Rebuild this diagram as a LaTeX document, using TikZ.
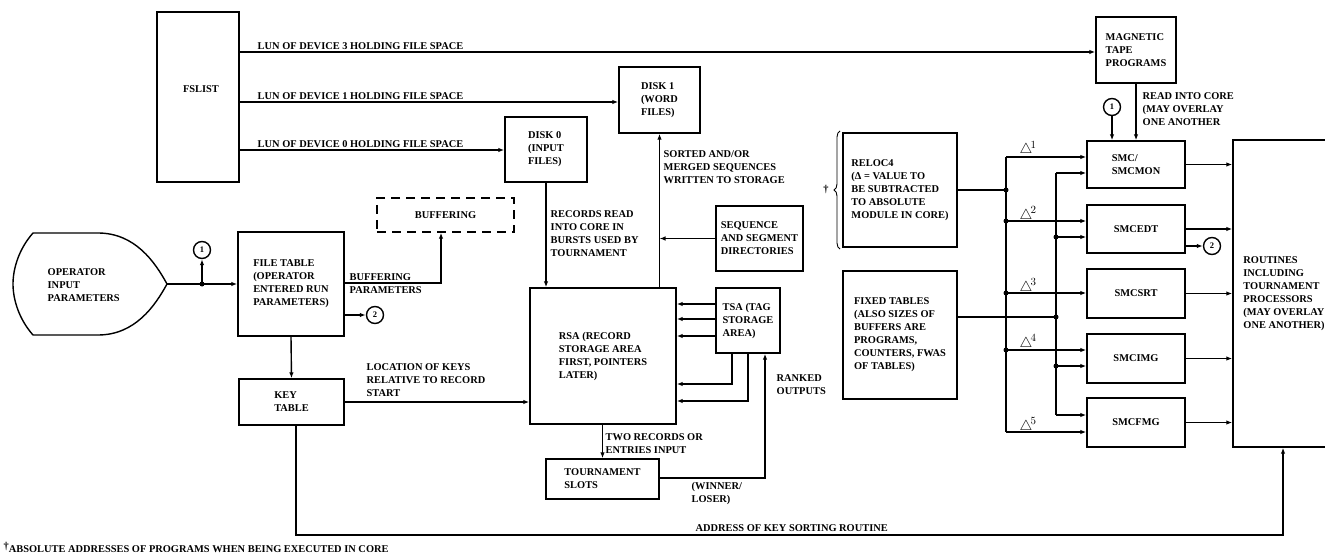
\documentclass[tikz,border=0pt]{standalone}
\usepackage{fontspec}
\setmainfont{Liberation Serif}
\usetikzlibrary{arrows.meta,calc,decorations.pathreplacing}
\newcommand\dfont{\fontsize{10.4}{13}\selectfont\bfseries}
\begin{document}
\begin{tikzpicture}[x=1pt,y=-1pt, line width=1.4pt,
 bx/.style={draw, align=left, inner sep=0pt, font=\dfont},
 txt/.style={align=left, inner sep=0pt, font=\dfont},
 arr/.style={-{Latex[length=6pt,width=4.5pt]}},
 dot/.style={circle, fill, inner sep=0pt, minimum size=5pt},
 cnum/.style={circle, draw, inner sep=0pt, minimum size=17pt, font=\fontsize{8.5}{8.5}\selectfont\bfseries},
 dlt/.style={inner sep=0pt, anchor=base west, font=\fontsize{15}{15}\selectfont}]
\useasboundingbox (0,0) rectangle (1325,556);
\fill[white] (0,0) rectangle (1325,556);

% ---------- boxes ----------
\node[bx, minimum width=82pt, minimum height=170pt] (fslist) at (198,97) {};
\node[txt] (fslisttxt) at (201,89) {FSLIST};
\node[bx, minimum width=80pt, minimum height=66pt] (magtape) at (1136,50) {MAGNETIC\\TAPE\\PROGRAMS};
\node[bx, minimum width=81pt, minimum height=66pt] (disk1) at (659.5,100) {DISK 1\\(WORD\\FILES)};
\node[bx, minimum width=82pt, minimum height=65pt] (disk0) at (546,149.5) {DISK 0\\(INPUT\\FILES)};
\node[bx, dash pattern=on 9pt off 6pt, minimum width=137pt, minimum height=34pt] (buffering) at (445.5,215) {BUFFERING};
\node[bx, minimum width=106pt, minimum height=104pt] (filetable) at (291,284) {FILE TABLE\\(OPERATOR\\ENTERED RUN\\PARAMETERS)};
\node[bx, minimum width=105pt, minimum height=46pt] (keytable) at (291.5,402) {KEY\\TABLE};
\node[bx, minimum width=146pt, minimum height=136pt] (rsa) at (603,356) {RSA (RECORD\\STORAGE AREA\\FIRST, POINTERS\\LATER)};
\node[bx, minimum width=87pt, minimum height=65pt] (seqdir) at (759.5,238.5) {SEQUENCE\\AND SEGMENT\\DIRECTORIES};
\node[bx, minimum width=64pt, minimum height=65pt] (tsa) at (748,320.5) {TSA (TAG\\STORAGE\\AREA)};
\node[bx, minimum width=113pt, minimum height=40pt] (tourn) at (602.5,479) {TOURNAMENT\\SLOTS};
\node[bx, minimum width=114pt, minimum height=114pt] (reloc) at (900,190) {RELOC4\\(Δ = VALUE TO\\BE SUBTRACTED\\TO ABSOLUTE\\MODULE IN CORE)};
\node[bx, minimum width=114pt, minimum height=128pt] (fixed) at (900,335) {FIXED TABLES\\(ALSO SIZES OF\\BUFFERS ARE\\PROGRAMS,\\COUNTERS, FWAS\\OF TABLES)};
\node[bx, minimum width=98pt, minimum height=47pt] (smc) at (1136,164.5) {SMC/\\SMCMON};
\node[bx, minimum width=98pt, minimum height=48pt] (edt) at (1136,229) {SMCEDT};
\node[bx, minimum width=98pt, minimum height=49pt] (srt) at (1136,293.5) {SMCSRT};
\node[bx, minimum width=98pt, minimum height=49pt] (img) at (1136,358.5) {SMCIMG};
\node[bx, minimum width=98pt, minimum height=49pt] (fmg) at (1136,422.5) {SMCFMG};
\node[bx, minimum width=102pt, minimum height=307pt] (routines) at (1284,293.5) {ROUTINES\\INCLUDING\\TOURNAMENT\\PROCESSORS\\(MAY OVERLAY\\ONE ANOTHER)};

% operator input shape
\draw (33,233) -- (98,233) .. controls (135,233) and (155,262) .. (167,284)
  .. controls (155,306) and (135,335) .. (98,335) -- (33,335)
  .. controls (18,318) and (13,298) .. (13,284)
  .. controls (13,270) and (18,250) .. (33,233) -- cycle;
\coordinate (optip) at (167,284);
\node[txt, anchor=west] (optxt) at (47,285) {OPERATOR\\INPUT\\PARAMETERS};

% circles
\node[cnum] (c1a) at (202,250) {1};
\node[cnum] (c2a) at (375,315) {2};
\node[cnum] (c1b) at (1112,107) {1};
\node[cnum] (c2b) at (1212,246) {2};

% brace and dagger
\draw[decorate, decoration={brace, amplitude=6pt}, line width=0.9pt] (840,249) -- (840,131);
\node[txt] (dag) at (826,190) {†};

% ---------- connectors ----------
\coordinate (f3) at (239,52);
\coordinate (f1) at (239,102);
\coordinate (f0) at (239,150);
\draw[arr] (fslist.east |- f3) -- (magtape.west |- f3);
\draw[arr] (fslist.east |- f1) -- (disk1.west |- f1);
\draw[arr] (fslist.east |- f0) -- (disk0.west |- f0);
\node[txt, anchor=base west] (lun3) at (257,49.5) {LUN OF DEVICE 3 HOLDING FILE SPACE};
\node[txt, anchor=base west] (lun1) at (257,99.5) {LUN OF DEVICE 1 HOLDING FILE SPACE};
\node[txt, anchor=base west] (lun0) at (257,147.5) {LUN OF DEVICE 0 HOLDING FILE SPACE};

\node[dot] (j1) at (202,284) {};
\draw[arr] (optip) -- (filetable.west);
\draw[arr] (j1.center) -- (c1a.south);

\coordinate (bp) at (441,283);
\draw[arr] (filetable.east |- bp) -- (bp) -- (bp |- buffering.south);
\node[txt, anchor=west] (bplbl) at (349,283.5) {BUFFERING\\PARAMETERS};
\draw[arr] (filetable.east |- c2a) -- (c2a.west);
\draw[arr] (filetable.south) -- (keytable.north);

\draw[arr] (keytable.east) -- (keytable.east -| rsa.west);
\node[txt, anchor=west] (loclbl) at (366,380) {LOCATION OF KEYS\\RELATIVE TO RECORD\\START};

\draw[arr] (disk0.south) -- (disk0.south |- rsa.north);
\node[txt, anchor=west] (reclbl) at (550,234) {RECORDS READ\\INTO CORE IN\\BURSTS USED BY\\TOURNAMENT};
\draw[arr] (rsa.north -| disk1.south) -- (disk1.south);
\node[txt, anchor=west] (sortlbl) at (663,167.5) {SORTED AND/OR\\MERGED SEQUENCES\\WRITTEN TO STORAGE};
\draw[arr] (seqdir.west) -- (seqdir.west -| disk1.south);

\coordinate (t1) at (716,304);
\coordinate (t2) at (716,319);
\coordinate (t3) at (716,336);
\draw[arr] (tsa.west |- t1) -- (rsa.east |- t1);
\draw[arr] (tsa.west |- t2) -- (rsa.east |- t2);
\draw[arr] (tsa.west |- t3) -- (rsa.east |- t3);
\coordinate (t4) at (732,384);
\coordinate (t5) at (748,401);
\draw[arr] (tsa.south -| t4) -- (t4) -- (t4 -| rsa.east);
\draw[arr] (tsa.south -| t5) -- (t5) -- (t5 -| rsa.east);
\coordinate (t6) at (765,478);
\draw[arr] (tourn.east |- t6) -- (t6) -- (t6 |- tsa.south);
\node[txt, anchor=west] (ranklbl) at (776,384.5) {RANKED\\OUTPUTS};
\node[txt, anchor=west] (winlbl) at (691,493.5) {(WINNER/\\LOSER)};

\draw[arr] (rsa.south -| tourn.north) -- (tourn.north);
\node[txt, anchor=west] (twolbl) at (605,444) {TWO RECORDS OR\\ENTRIES INPUT};

\coordinate (a1) at (296,535);
\coordinate (a2) at (1283,535);
\draw[arr] (keytable.south -| a1) -- (a1) -- (a2) -- (a2 |- routines.south);
\node[txt, anchor=base west] (addrlbl) at (695,531) {ADDRESS OF KEY SORTING ROUTINE};

\draw[arr] (magtape.south) -- (magtape.south |- smc.north);
\node[txt, anchor=west] (readlbl) at (1142,109) {READ INTO CORE\\(MAY OVERLAY\\ONE ANOTHER};
\draw[arr] (c1b.south) -- (c1b.south |- smc.north);

% bus A (deltas)
\coordinate (A1) at (1006,157);
\coordinate (A5) at (1006,432);
\node[dot] (A0) at (1006,190) {};
\node[dot] (A2) at (1006,221) {};
\node[dot] (A3) at (1006,293) {};
\node[dot] (A4) at (1006,350) {};
\draw (A1) -- (A5);
\draw (reloc.east) -- (A0.center);
\draw[arr] (A1) -- (A1 -| smc.west);
\draw[arr] (A2.center) -- (A2 -| edt.west);
\draw[arr] (A3.center) -- (A3 -| srt.west);
\draw[arr] (A4.center) -- (A4 -| img.west);
\draw[arr] (A5) -- (A5 -| fmg.west);
\node[dlt] (dl1) at (1019,154) {$\triangle^{\!1}$};
\node[dlt] (dl2) at (1019,219) {$\triangle^{\!2}$};
\node[dlt] (dl3) at (1019,291) {$\triangle^{\!3}$};
\node[dlt] (dl4) at (1019,347) {$\triangle^{\!4}$};
\node[dlt] (dl5) at (1019,430) {$\triangle^{\!5}$};

% bus B (fixed tables)
\coordinate (B1) at (1056,173);
\coordinate (B5) at (1056,415);
\node[dot] (B2) at (1056,237) {};
\node[dot] (B3) at (1056,317) {};
\node[dot] (B4) at (1056,366) {};
\draw (B1) -- (B5);
\draw (fixed.east |- B3) -- (B3.center);
\draw[arr] (B1) -- (B1 -| smc.west);
\draw[arr] (B2.center) -- (B2 -| edt.west);
\draw[arr] (B4.center) -- (B4 -| img.west);
\draw[arr] (B5) -- (B5 -| fmg.west);

% outputs to routines
\draw[arr] (smc.east) -- (smc.east -| routines.west);
\draw[arr] (edt.east) -- (edt.east -| routines.west);
\draw[arr] (srt.east) -- (srt.east -| routines.west);
\draw[arr] (img.east) -- (img.east -| routines.west);
\draw[arr] (fmg.east) -- (fmg.east -| routines.west);
\draw[arr] (edt.east |- c2b) -- (c2b.west);

% footnote
\node[txt, anchor=base west, font=\fontsize{10.4}{12}\selectfont\bfseries] (foot) at (3,552) {\raisebox{3pt}{†}ABSOLUTE ADDRESSES OF PROGRAMS WHEN BEING EXECUTED IN CORE};
\end{tikzpicture}
\end{document}
